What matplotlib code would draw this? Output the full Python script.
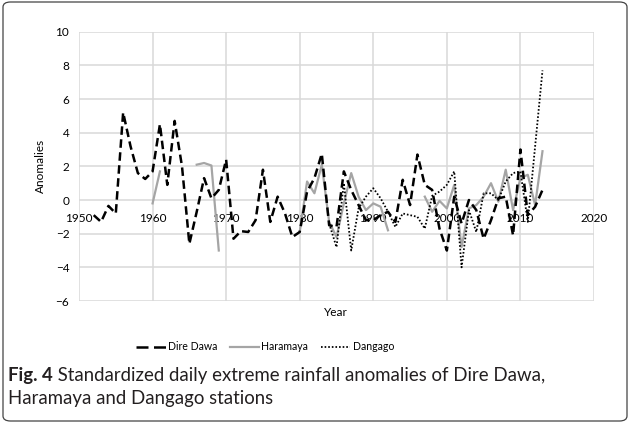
import numpy as np
import matplotlib
matplotlib.use("Agg")
import matplotlib.pyplot as plt
from matplotlib.patches import FancyBboxPatch
from matplotlib.lines import Line2D

# ---------------- data ----------------
dd_years = list(range(1952, 2014))
dd_values = [-0.9, -1.3, -0.35, -0.8, 5.2, 3.2, 1.6, 1.25, 1.7, 4.5,
             0.9, 4.7, 2.0, -2.6, -0.7, 1.3, 0.1, 0.6, 2.4, -2.3,
             -1.85, -1.9, -1.2, 1.8, -1.3, 0.2, -0.8, -2.2, -1.9, 0.5,
             1.3, 2.75, -1.5, -1.6, 1.7, 0.6, -0.3, -1.2, -1.2, -0.9,
             -0.7, -1.3, 1.2, -0.3, 2.7, 0.9, 0.6, -1.7, -3.0, 0.2,
             -1.4, 0.0, -0.6, -2.3, -1.2, 0.1, 0.2, -2.1, 3.0, -0.9,
             -0.4, 0.6]

nan = float("nan")
hr_years = list(range(1960, 2014))
hr_values = [-0.2, 1.7, nan, nan, nan, nan, 2.1, 2.2, 2.05, -3.0,
             nan, nan, nan, nan, nan, nan, nan, nan, nan, nan,
             -1.9, 1.1, 0.4, 2.1, -1.3, -2.2, -0.2, 1.6, 0.2, -0.6,
             -0.2, -0.4, -1.8, nan, nan, nan, nan, 0.2, -0.7, -0.05,
             -0.5, 0.9, -2.8, -0.5, -0.3, 0.2, 1.0, -0.1, 1.8, -0.6,
             1.3, 1.5, -0.3, 2.9]

dg_years = list(range(1984, 2014))
dg_values = [-1.4, -2.8, 1.0, -3.0, -0.5, 0.2, 0.7, 0.1, -0.7, -1.6,
             -0.8, -0.9, -1.0, -1.7, 0.25, 0.5, 0.9, 1.7, -4.0, -0.6,
             -1.9, 0.4, 0.4, 0.0, 1.1, 1.6, 1.7, -1.3, 3.2, 7.7]

series_names = ["Dire Dawa", "Haramaya", "Dangago"]
x_ticks = [1950, 1960, 1970, 1980, 1990, 2000, 2010, 2020]
y_ticks = [-6, -4, -2, 0, 2, 4, 6, 8, 10]

caption_bold = "Fig. 4"
caption_line1 = " Standardized daily extreme rainfall anomalies of Dire Dawa,"
caption_line2 = "Haramaya and Dangago stations"

# ---------------- figure ----------------
W, H = 630, 423
plt.rcParams["font.family"] = ["Lato", "DejaVu Sans"]
fig = plt.figure(figsize=(W / 100, H / 100), dpi=100)

def fx(px):
    return px / W

def fy(py):
    return 1 - py / H

# outer rounded frame
frame = FancyBboxPatch((fx(3), fy(421)), fx(624) - fx(0), fy(2) - fy(421),
                       boxstyle="round,pad=0,rounding_size=0.012",
                       transform=fig.transFigure, fill=False,
                       edgecolor="#444444", linewidth=0.9)
fig.patches.append(frame)

ax = fig.add_axes([fx(79), fy(301), fx(594) - fx(79), fy(31.7) - fy(301)])
ax.set_xlim(1950, 2020)
ax.set_ylim(-6, 10)
ax.set_xticks(x_ticks)
ax.set_yticks(y_ticks)
grid_c = "#D9D9D9"
ax.grid(True, color=grid_c, linewidth=1.1)
ax.set_axisbelow(True)
for s in ["top", "right", "left"]:
    ax.spines[s].set_visible(False)
ax.spines["bottom"].set_position(("data", 0))
ax.spines["bottom"].set_visible(False)
ax.tick_params(axis="both", length=0, labelsize=8.5, colors="#000000")
ax.tick_params(axis="x", pad=9)
ax.tick_params(axis="y", pad=7)

dd_style = dict(color="#000000", linewidth=1.8, dashes=(3.4, 1.8),
                dash_capstyle="butt")
hr_style = dict(color="#A5A5A5", linewidth=1.6)
dg_style = dict(color="#000000", linewidth=1.3, linestyle=(0, (0.9, 1.1)))

ax.plot(dd_years, dd_values, label=series_names[0], zorder=3, **dd_style)
ax.plot(hr_years, hr_values, label=series_names[1], zorder=2, **hr_style)
ax.plot(dg_years, dg_values, label=series_names[2], zorder=2.5, **dg_style)

fig.text(fx(40), fy(166), "Anomalies", rotation=90, ha="center", va="center",
         fontsize=8.5)
fig.text(fx(336), fy(312), "Year", ha="center", va="center", fontsize=8.5)

leg_dd = dict(dd_style)
leg_dd["dashes"] = (4.8, 2.2)
handles = [Line2D([], [], **leg_dd), Line2D([], [], **hr_style),
           Line2D([], [], **dg_style)]
leg = fig.legend(handles, series_names, loc="center", ncol=3,
                 bbox_to_anchor=(fx(265), fy(347)), frameon=False,
                 fontsize=7.6, handlelength=2.8, handletextpad=0.2,
                 columnspacing=1.2)

# caption
cap_size = 13.4
t1 = fig.text(fx(8), fy(376), caption_bold, ha="left", va="center",
              fontsize=cap_size, fontweight="bold", color="#231F20")
fig.canvas.draw()
r = fig.canvas.get_renderer()
bb = t1.get_window_extent(r)
fig.text(bb.x1 / W, fy(376), caption_line1, ha="left", va="center",
         fontsize=cap_size, color="#231F20")
fig.text(fx(8), fy(398), caption_line2, ha="left", va="center",
         fontsize=cap_size, color="#231F20")

fig.savefig("out.png", dpi=100)
